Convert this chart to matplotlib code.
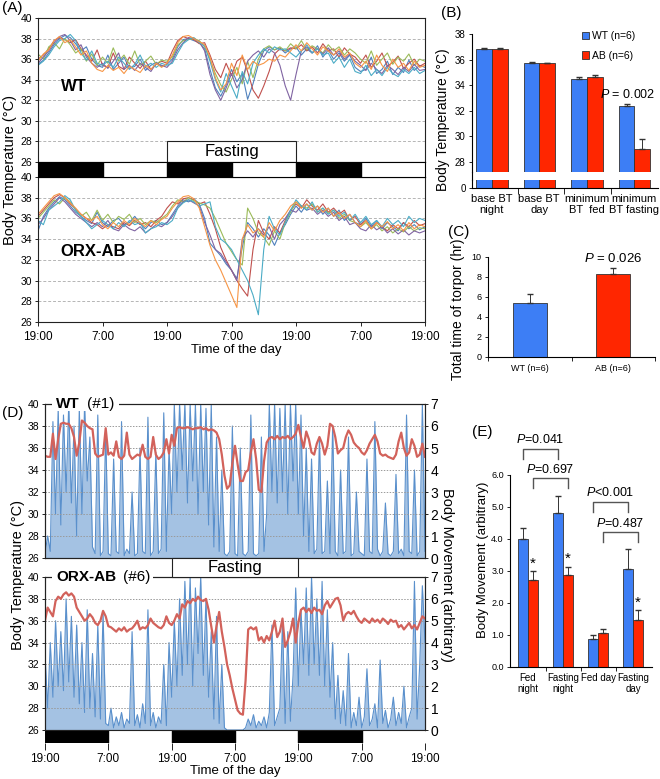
import numpy as np
import matplotlib
matplotlib.use("Agg")
import matplotlib.pyplot as plt
from matplotlib.patches import Rectangle
from matplotlib.lines import Line2D

plt.rcParams['font.family'] = ['Liberation Sans', 'DejaVu Sans']
plt.rcParams['mathtext.fontset'] = 'custom'
plt.rcParams['mathtext.it'] = 'Liberation Sans:italic'
plt.rcParams['mathtext.rm'] = 'Liberation Sans'

# ---------------- data ----------------
hour_ticks = [0, 12, 24, 36, 48, 60, 72]
hour_labels = ['19:00', '7:00', '19:00', '7:00', '19:00', '7:00', '19:00']
nights = [(0, 12), (24, 12), (48, 12)]
fasting = (24, 24)
mouse_colors = ['#4F81BD', '#C0504D', '#9BBB59', '#8064A2', '#4BACC6', '#F79646']

# (A) hourly body temperature, 6 WT mice
wt_bt = [
    [35.5, 35.9, 36.6, 37.4, 38.0, 38.3, 38.1, 37.5, 36.8, 37.2, 36.0, 35.4,
     35.2, 36.4, 35.0, 35.6, 36.2, 35.1, 35.3, 36.0, 34.9, 35.4, 35.7, 35.3,
     35.5, 36.0, 37.2, 37.9, 38.0, 37.8, 37.6, 37.0, 35.0, 33.2, 32.4, 33.5,
     35.0, 33.8, 34.6, 32.1, 33.6, 35.5, 36.8, 37.2, 36.9, 37.1, 36.6, 37.0,
     37.2, 36.4, 37.0, 36.6, 37.3, 36.2, 36.9, 36.0, 36.6, 35.8, 36.4, 35.2,
     34.8, 35.0, 36.2, 34.6, 35.0, 35.8, 34.5, 35.2, 34.7, 35.9, 34.9, 35.4,
     35.2],
    [36.0, 36.4, 37.0, 37.8, 38.1, 37.9, 37.6, 37.9, 37.0, 36.4, 35.8, 36.9,
     35.4, 35.2, 36.6, 35.3, 35.0, 36.2, 35.6, 35.1, 35.8, 35.0, 35.5, 35.8,
     35.6, 36.8, 37.8, 38.2, 38.0, 37.9, 37.5, 37.6, 36.4, 35.0, 34.2, 35.6,
     34.4, 35.8, 36.2, 34.8, 33.0, 32.2, 33.4, 34.8, 36.5, 37.0, 36.8, 37.1,
     37.0, 37.4, 36.8, 37.2, 36.6, 37.5, 36.8, 37.0, 36.2, 37.1, 36.5, 36.2,
     35.6, 36.4, 35.2, 35.8, 36.6, 35.3, 35.7, 36.3, 35.1, 35.6, 36.0, 35.3,
     35.6],
    [36.5, 36.0, 37.2, 37.6, 37.0, 38.0, 37.4, 36.6, 37.0, 35.8, 36.5, 35.4,
     36.2, 35.6, 37.1, 35.8, 36.4, 35.5, 36.8, 35.4, 35.8, 36.3, 35.5, 35.9,
     35.8, 36.2, 37.4, 37.8, 37.9, 38.0, 37.8, 37.2, 36.0, 34.6, 33.5, 32.8,
     34.0, 35.2, 33.6, 35.8, 34.2, 36.0, 37.0, 37.3, 36.9, 37.2, 36.8, 37.5,
     37.0, 37.8, 36.9, 37.3, 37.0, 36.6, 37.4, 36.8, 37.2, 36.4, 37.0, 36.6,
     36.0, 35.6, 36.8, 35.4, 36.0, 36.6, 35.5, 36.2, 35.8, 36.5, 35.4, 36.0,
     35.8],
    [35.6, 36.2, 36.8, 37.6, 38.2, 38.4, 37.8, 36.9, 37.4, 36.2, 35.6, 35.2,
     35.6, 35.1, 35.8, 36.6, 35.0, 35.4, 34.9, 35.6, 35.2, 34.8, 35.6, 35.4,
     35.2, 35.8, 36.9, 37.6, 38.1, 38.0, 37.7, 36.8, 34.5, 33.0, 32.0, 33.2,
     34.6, 33.2, 34.0, 35.8, 36.4, 36.8, 36.2, 37.0, 36.6, 35.4, 33.4, 32.0,
     34.5, 36.8, 37.2, 36.6, 37.0, 36.5, 37.1, 36.4, 36.8, 36.0, 36.5, 35.8,
     35.4, 34.9, 35.6, 35.0, 34.6, 35.4, 35.0, 34.5, 35.2, 34.8, 35.5, 34.9,
     35.0],
    [35.4, 35.8, 36.4, 37.2, 37.8, 38.0, 38.4, 37.8, 36.6, 35.9, 36.8, 35.6,
     35.4, 35.8, 35.2, 36.2, 35.6, 35.0, 35.5, 36.4, 35.3, 35.6, 35.2, 35.6,
     35.4, 35.6, 36.6, 37.5, 37.9, 38.1, 37.6, 37.3, 35.8, 34.0, 32.8, 34.6,
     33.4, 32.2, 34.8, 33.6, 35.6, 36.4, 37.0, 36.6, 37.2, 36.9, 37.0, 36.6,
     36.2, 36.8, 37.4, 36.6, 37.0, 36.4, 36.6, 35.6, 36.2, 35.2, 36.0, 34.8,
     34.6, 35.4, 34.4, 35.0, 34.4, 35.2, 34.6, 34.3, 35.0, 34.6, 35.2, 34.6,
     34.9],
    [35.8, 36.5, 36.9, 37.8, 38.2, 37.6, 37.9, 37.2, 36.4, 36.8, 35.6, 35.0,
     34.8, 35.4, 34.9, 35.2, 34.6, 35.3, 35.0, 34.7, 35.4, 35.0, 35.6, 35.2,
     35.6, 36.4, 37.6, 38.2, 38.3, 38.0, 37.7, 37.4, 36.2, 34.2, 33.0, 33.6,
     35.6, 34.4, 36.4, 35.0, 35.8, 35.4, 35.6, 36.0, 35.8, 36.4, 36.2, 36.8,
     37.4, 36.8, 37.6, 37.0, 36.4, 37.2, 36.8, 36.4, 37.0, 36.2, 36.6, 35.6,
     35.2, 35.8, 35.0, 36.4, 35.4, 34.8, 36.0, 35.2, 35.6, 34.9, 35.8, 35.2,
     35.4],
]

# (A) hourly body temperature, 6 ORX-AB mice
ab_bt = [
    [34.8, 36.2, 37.0, 37.6, 38.1, 37.8, 37.2, 36.6, 36.2, 35.8, 35.5, 36.6,
     35.6, 35.2, 35.8, 36.0, 35.4, 35.6, 36.2, 35.5, 35.0, 35.6, 35.8, 35.4,
     35.6, 36.4, 37.2, 37.8, 37.6, 37.9, 37.4, 36.0, 33.6, 33.0, 32.4, 31.6,
     31.0, 30.2, 33.2, 35.6, 35.0, 34.2, 35.0, 34.4, 33.4, 34.6, 35.4, 36.4,
     37.2, 36.6, 37.4, 36.8, 37.2, 36.4, 37.0, 36.2, 36.8, 35.8, 36.4, 35.6,
     35.4, 36.0, 35.2, 35.8, 35.0, 35.6, 35.2, 34.8, 35.6, 35.0, 35.4, 34.9,
     35.2],
    [36.2, 36.8, 37.4, 38.0, 38.3, 38.0, 37.4, 36.9, 36.4, 36.0, 35.6, 35.4,
     35.0, 35.4, 35.2, 35.0, 35.6, 35.3, 35.8, 35.4, 35.6, 35.2, 35.8, 36.2,
     37.0, 37.6, 37.4, 37.9, 38.0, 37.8, 37.4, 37.6, 36.4, 35.0, 33.2, 32.0,
     31.0, 30.0, 29.2, 28.5, 33.0, 35.8, 34.6, 34.0, 35.2, 34.6, 35.8, 36.8,
     37.4, 37.0, 37.8, 37.2, 36.8, 37.4, 36.6, 37.0, 36.4, 36.8, 35.8, 36.2,
     35.4, 35.8, 35.0, 35.6, 35.2, 34.8, 35.4, 35.0, 35.6, 35.2, 35.8, 35.3,
     35.5],
    [36.0, 36.6, 37.2, 37.8, 37.4, 38.0, 37.6, 36.8, 36.2, 36.6, 35.8, 36.8,
     35.8, 36.4, 35.6, 36.2, 35.9, 36.4, 35.6, 36.0, 35.4, 35.8, 35.6, 36.0,
     36.4, 37.2, 37.8, 37.6, 38.0, 37.7, 37.5, 37.3, 37.0, 36.0, 34.8, 33.6,
     32.8, 32.0, 31.5, 37.0, 36.0, 34.6, 34.2, 33.4, 34.8, 34.0, 35.6, 36.6,
     37.6, 37.2, 37.0, 37.4, 36.6, 37.0, 36.5, 36.8, 36.0, 36.4, 35.8, 35.6,
     35.2, 35.6, 35.0, 35.4, 34.8, 35.2, 34.6, 35.0, 34.7, 35.2, 34.8, 35.1,
     35.0],
    [35.4, 36.0, 36.8, 37.4, 38.0, 37.6, 37.0, 36.4, 36.0, 35.6, 35.2, 35.6,
     35.2, 35.8, 35.0, 34.8, 35.4, 35.0, 34.8, 35.2, 34.6, 35.0, 35.4, 35.2,
     35.6, 36.2, 37.0, 37.6, 37.8, 37.5, 37.2, 35.6, 34.4, 33.0, 32.6, 31.8,
     31.0, 30.0, 34.0, 34.8, 34.2, 35.0, 34.4, 35.2, 34.0, 35.4, 36.0, 36.8,
     36.6, 37.2, 36.8, 37.0, 36.4, 36.8, 36.2, 36.6, 35.8, 36.2, 35.4, 35.6,
     35.0, 34.8, 35.4, 34.9, 35.2, 34.6, 35.0, 34.5, 34.9, 34.4, 34.8, 34.6,
     34.8],
    [35.8, 35.4, 36.8, 37.2, 37.6, 38.2, 37.8, 36.8, 36.2, 35.6, 35.0, 35.4,
     35.8, 35.4, 35.0, 35.6, 35.2, 35.8, 35.4, 35.6, 34.6, 35.0, 35.2, 35.6,
     35.4, 35.8, 37.0, 37.5, 37.8, 37.6, 37.2, 37.4, 37.6, 35.2, 34.0, 33.6,
     33.0, 32.0, 31.0, 30.0, 28.6, 26.7, 33.0, 36.2, 35.0, 34.4, 35.6, 36.8,
     37.8, 37.2, 36.8, 37.6, 36.6, 37.0, 36.4, 36.8, 36.2, 36.6, 35.8, 36.4,
     35.6, 36.2, 35.4, 35.8, 35.2, 36.0, 35.4, 35.8, 35.2, 36.2, 35.6, 36.0,
     35.8],
    [36.4, 37.0, 37.6, 38.2, 38.4, 38.0, 37.5, 37.0, 36.4, 36.0, 35.8, 36.2,
     35.4, 35.0, 35.6, 35.2, 35.8, 35.4, 36.0, 35.6, 35.2, 35.8, 35.4, 35.9,
     36.2, 37.0, 37.6, 38.1, 38.2, 37.9, 37.0, 35.2, 33.4, 32.0, 31.0, 29.8,
     28.6, 27.4, 34.0, 35.4, 34.6, 35.0, 34.2, 35.6, 34.8, 35.8, 36.4, 37.2,
     37.6, 37.0, 37.4, 36.8, 37.2, 36.6, 37.0, 36.2, 36.6, 36.0, 36.4, 35.6,
     35.2, 35.8, 35.0, 35.6, 35.2, 35.7, 35.0, 35.4, 34.8, 35.6, 35.0, 35.4,
     35.2],
]

# (B) body temperature summary
b_cats = ['base BT\nnight', 'base BT\nday', 'minimum\nBT  fed', 'minimum\nBT fasting']
b_wt = [36.85, 35.7, 34.5, 32.35]
b_wt_err = [0.08, 0.1, 0.12, 0.15]
b_ab = [36.85, 35.7, 34.68, 29.05]
b_ab_err = [0.08, 0.05, 0.1, 0.75]

# (C) torpor time
c_cats = ['WT (n=6)', 'AB (n=6)']
c_vals = [5.4, 8.3]
c_err = [0.9, 0.6]

# (D) half-hourly temperature and movement for one mouse of each group
wt1_temp = [
    35.3, 35.2, 35.2, 37.3, 35.0, 36.8, 38.2, 38.3, 38.2, 38.2, 37.8, 37.0,
    35.3, 36.5, 38.5, 38.3, 38.0, 37.8, 37.7, 35.5, 35.2, 35.3, 35.4, 37.8,
    35.4, 35.6, 35.3, 36.6, 35.2, 35.0, 35.3, 37.4, 35.4, 35.0, 35.2, 35.4,
    35.3, 36.3, 35.2, 35.0, 35.2, 37.0, 35.4, 35.0, 35.2, 35.6, 36.8, 35.5,
    37.2, 36.2, 37.8, 37.9, 37.8, 37.8, 37.9, 37.8, 37.7, 37.8, 37.8, 37.9,
    37.7, 37.8, 37.6, 37.7, 37.6, 37.4, 36.8, 35.4, 33.5, 32.3, 32.6, 34.6,
    36.2, 34.5, 33.0, 33.0, 33.8, 34.0, 35.6, 36.8, 35.0, 32.2, 32.0, 34.8,
    36.5, 36.9, 37.0, 36.8, 37.1, 36.8, 37.0, 36.9, 37.1, 36.8, 37.0, 37.3,
    38.1, 37.0, 36.0, 37.5, 36.8, 35.6, 35.4, 36.4, 37.0, 36.4, 35.4, 36.2,
    38.2, 38.0, 37.0, 35.5, 35.8, 36.0, 37.0, 37.6, 37.2, 36.5, 36.2, 36.0,
    35.6, 35.4, 35.8, 36.4, 36.8, 37.2, 36.6, 35.5, 35.3, 35.4, 35.2, 35.1,
    35.0, 35.4, 36.6, 37.4, 36.0, 35.3, 35.6, 36.8, 36.2, 35.2, 35.4, 36.4,
    35.2]
wt1_move = [
    0.2, 1.0, 0.3, 6.2, 2.0, 6.8, 1.5, 6.5, 3.0, 7.0, 2.5, 6.0,
    1.0, 6.8, 2.0, 7.0, 3.5, 5.5, 0.5, 0.2, 6.5, 0.1, 0.3, 5.8,
    0.2, 0.1, 4.5, 0.3, 0.2, 6.2, 0.1, 0.4, 0.2, 3.0, 0.1, 0.2,
    5.0, 0.3, 0.2, 6.4, 0.1, 0.3, 4.8, 0.2, 0.4, 6.6, 0.3, 5.0,
    2.0, 7.0, 3.0, 7.0, 4.0, 7.0, 2.5, 7.0, 3.5, 7.0, 2.0, 7.0,
    3.0, 6.8, 1.5, 7.0, 0.5, 5.5, 0.3, 4.0, 0.2, 0.1, 0.3, 6.0,
    0.2, 0.1, 5.0, 0.2, 0.1, 0.3, 6.5, 0.2, 0.1, 0.2, 5.5, 0.3,
    2.0, 7.0, 3.0, 7.0, 2.5, 6.8, 3.0, 7.0, 2.0, 7.0, 3.5, 7.0,
    2.0, 6.5, 1.0, 5.0, 0.3, 4.5, 0.2, 0.4, 5.5, 0.2, 0.3, 3.5,
    0.2, 6.0, 0.3, 0.1, 4.0, 0.2, 0.3, 5.5, 0.1, 0.2, 3.0, 0.3,
    0.2, 0.1, 4.5, 0.3, 0.2, 6.2, 0.4, 0.1, 0.3, 2.5, 0.2, 0.1,
    0.3, 3.8, 0.2, 0.4, 0.1, 6.5, 0.3, 0.2, 4.0, 0.1, 0.3, 7.0,
    0.3]
ab6_temp = [
    36.0, 37.2, 36.8, 36.4, 37.8, 38.2, 38.0, 38.4, 38.6, 38.3, 38.5, 38.2,
    37.2, 36.8, 36.4, 36.0, 36.2, 36.6, 36.3, 35.8, 35.6, 36.0, 36.9, 36.4,
    35.5, 35.4, 35.2, 35.0, 35.3, 35.1, 35.4, 35.0, 35.2, 35.3, 35.6, 36.0,
    35.2, 35.4, 35.3, 35.6, 36.2, 35.8, 35.6, 35.4, 35.3, 35.6, 36.4, 35.8,
    35.6, 36.0, 36.6, 36.2, 37.5, 37.2, 37.8, 37.6, 38.0, 37.8, 38.2, 37.9,
    37.8, 38.0, 37.0, 35.5, 34.0, 35.5, 36.8, 35.0, 33.6, 32.0, 31.0, 29.8,
    28.8, 27.8, 27.5, 27.4, 30.5, 35.2, 35.4, 35.2, 35.4, 34.2, 34.5, 34.0,
    34.6, 34.2, 35.0, 36.0, 34.5, 35.0, 36.2, 33.6, 34.2, 35.0, 36.2, 34.0,
    35.8, 37.0, 37.2, 36.8, 37.1, 36.7, 37.2, 36.9, 37.0, 36.6, 37.4, 37.8,
    37.2, 37.6, 38.0, 38.1, 37.4, 36.0, 36.6, 36.8, 36.6, 36.9, 36.4, 36.0,
    35.8, 36.2, 36.0, 35.8, 36.2, 35.9, 36.1, 35.8, 36.2, 36.0, 35.7, 36.1,
    35.9, 36.0, 35.4, 35.6, 35.2, 35.5, 35.8, 35.3, 35.6, 35.2, 35.8, 36.4,
    36.2]
ab6_move = [
    3.5, 1.0, 4.0, 1.5, 5.0, 2.0, 4.5, 1.8, 6.0, 2.2, 5.2, 1.5,
    4.8, 1.2, 4.0, 0.8, 5.5, 1.0, 3.5, 0.6, 4.8, 0.5, 5.4, 0.3,
    0.2, 1.0, 0.1, 0.6, 0.2, 0.8, 0.1, 0.5, 0.3, 4.5, 0.2, 0.7,
    0.1, 1.2, 0.3, 5.5, 0.2, 0.8, 0.1, 0.6, 0.3, 3.0, 0.2, 4.0,
    1.5, 5.0, 2.0, 6.0, 2.5, 6.8, 3.0, 7.0, 2.0, 6.5, 3.5, 7.0,
    2.5, 6.0, 1.5, 4.5, 0.5, 5.2, 0.3, 3.0, 0.1, 0.0, 0.0, 0.0,
    0.0, 0.0, 0.0, 0.0, 0.1, 0.5, 0.2, 0.7, 0.1, 0.4, 0.2, 0.6,
    0.1, 0.8, 4.8, 0.2, 0.6, 1.0, 5.0, 0.3, 4.5, 0.4, 2.5, 6.5,
    2.0, 5.5, 3.0, 6.5, 2.5, 7.0, 3.0, 6.0, 2.5, 6.8, 2.0, 5.5,
    1.5, 4.0, 0.5, 2.5, 0.3, 1.8, 0.2, 3.5, 0.1, 0.8, 0.2, 1.5,
    0.1, 0.6, 2.8, 0.2, 0.5, 1.2, 0.1, 3.2, 0.3, 0.9, 0.1, 0.5,
    1.5, 0.2, 0.8, 0.3, 2.0, 0.1, 0.6, 1.0, 6.8, 0.5, 3.0, 6.6,
    4.0]

# (E) body movement summary
e_cats = ['Fed\nnight', 'Fasting\nnight', 'Fed day', 'Fasting\nday']
e_wt = [4.0, 4.8, 0.88, 3.05]
e_wt_err = [0.33, 0.55, 0.13, 0.65]
e_ab = [2.72, 2.87, 1.05, 1.48]
e_ab_err = [0.28, 0.27, 0.15, 0.30]
e_star = [True, True, False, True]
e_tests = [('WT', 0, 1, '$P$=0.041'), ('AB', 0, 1, '$P$=0.697'),
           ('WT', 2, 3, '$P$<0.001'), ('AB', 2, 3, '$P$=0.487')]

BLUE = '#3D7EF5'
RED = '#FF2600'
MOVE = '#5A90CC'
W, H = 660, 779


def box(x0, y0, x1, y1):
    return [x0 / W, 1 - y1 / H, (x1 - x0) / W, (y1 - y0) / H]


def ftext(x, y, s, **kw):
    return fig.text(x / W, 1 - y / H, s, **kw)


def time_axes(ax):
    ax.set_xlim(0, 72)
    ax.set_ylim(26, 40)
    ax.set_yticks(range(26, 41, 2))
    ax.tick_params(axis='y', labelsize=7.5, length=2, width=0.6, pad=2)
    for sp in ax.spines.values():
        sp.set_linewidth(0.8)
        sp.set_color('#222222')


fig = plt.figure(figsize=(6.6, 7.79), dpi=100)

# ---------------- (A) ----------------
axA1 = fig.add_axes(box(38, 18, 425, 162))
axA2 = fig.add_axes(box(38, 177, 425, 322))
for ax, group in ((axA1, wt_bt), (axA2, ab_bt)):
    for series, c in zip(group, mouse_colors):
        ax.plot(np.arange(len(series)), series, color=c, lw=0.8)
    time_axes(ax)
    ax.yaxis.grid(True, ls=(0, (3, 2)), color='#b5b5b5', lw=0.7)
    ax.set_axisbelow(True)
axA1.set_xticks([])
axA2.set_xticks(hour_ticks)
axA2.set_xticklabels(hour_labels, fontsize=8.5)
axA2.tick_params(axis='x', length=3, width=0.6)
axA1.add_patch(Rectangle((fasting[0], 26), fasting[1], 2, fc='white', ec='#222222', lw=0.8, zorder=5))
axA1.text(fasting[0] + fasting[1] / 2, 27.05, 'Fasting', ha='center', va='center', fontsize=12, zorder=6)
axA1.text(4.2, 33.3, 'WT', fontsize=12, fontweight='bold', va='center')
axA2.text(4.2, 32.8, 'ORX-AB', fontsize=12, fontweight='bold', va='center')

axAb = fig.add_axes(box(38, 162, 425, 177))
for start, length in nights:
    axAb.axvspan(start, start + length, color='black')
axAb.set_xlim(0, 72)
axAb.set_xticks([])
axAb.set_yticks([])
for sp in axAb.spines.values():
    sp.set_linewidth(0.8)

ftext(10, 170, 'Body Temperature (°C)', rotation=90, ha='center', va='center', fontsize=10.5)
ftext(236, 350, 'Time of the day', ha='center', va='center', fontsize=9.5)
ftext(2, 8, '(A)', fontsize=11, va='center')

# ---------------- (B) ----------------
xb = np.arange(len(b_cats))
axB = fig.add_axes(box(472, 34, 658, 172))
axBl = fig.add_axes(box(472, 180, 658, 188))
for ax in (axB, axBl):
    ax.bar(xb - 0.12, b_wt, 0.33, color=BLUE, edgecolor='#333333', lw=0.6, label='WT (n=6)')
    ax.bar(xb + 0.21, b_ab, 0.33, color=RED, edgecolor='#333333', lw=0.6, label='AB (n=6)')
    ax.set_xlim(-0.375, 3.54)
    ax.spines['top'].set_visible(False)
    ax.spines['right'].set_visible(False)
    ax.tick_params(labelsize=7, length=2.5, width=0.6, pad=2)
axB.errorbar(xb - 0.12, b_wt, yerr=[[0] * 4, b_wt_err], fmt='none', ecolor='#333333', elinewidth=0.7, capsize=2)
axB.errorbar(xb + 0.21, b_ab, yerr=[[0] * 4, b_ab_err], fmt='none', ecolor='#333333', elinewidth=0.7, capsize=2)
axB.set_ylim(27.22, 38)
axB.set_yticks(range(28, 39, 2))
axB.spines['bottom'].set_visible(False)
axB.set_xticks([])
axBl.set_ylim(0, 0.6)
axBl.set_yticks([0])
axBl.set_xticks([0.6, 1.57, 2.55])
axBl.set_xticklabels([])
axBl.set_xticks(xb + 0.04, minor=True)
axBl.set_xticklabels(b_cats, minor=True, fontsize=8)
axBl.tick_params(axis='x', which='minor', length=0, pad=4)
axBl.tick_params(axis='x', which='major', length=4)
fig.add_artist(Line2D([472 / W, 472 / W], [1 - 172 / H, 1 - 180 / H], color='black', lw=0.8))
axB.legend(loc='upper left', bbox_to_anchor=(578 / W, 1 - 27 / H), bbox_transform=fig.transFigure,
           frameon=False, fontsize=7.5, handlelength=0.7, handleheight=0.7, handletextpad=0.2,
           labelspacing=0.9, borderaxespad=0)
ftext(655, 94, '$P$ = 0.002', ha='right', va='center', fontsize=9)
ftext(443, 120, 'Body Temperature (°C)', rotation=90, ha='center', va='center', fontsize=10)
ftext(441, 13, '(B)', fontsize=11, va='center')

# ---------------- (C) ----------------
xc = np.arange(len(c_cats))
axC = fig.add_axes(box(488, 257, 655, 357))
axC.bar(xc, c_vals, 0.41, color=[BLUE, RED], edgecolor='#333333', lw=0.6)
axC.errorbar(xc, c_vals, yerr=[[0, 0], c_err], fmt='none', ecolor='#333333', elinewidth=0.7, capsize=2.5)
axC.set_xlim(-0.5, 1.5)
axC.set_ylim(0, 10)
axC.set_yticks(range(0, 11, 2))
axC.set_xticks([-0.5, 0.5, 1.5])
axC.set_xticklabels([])
axC.set_xticks(xc, minor=True)
axC.set_xticklabels(c_cats, minor=True, fontsize=6.5)
axC.tick_params(axis='x', which='minor', length=0, pad=5)
axC.tick_params(axis='x', which='major', length=3, width=0.6)
axC.tick_params(axis='y', labelsize=6.5, length=2.5, width=0.6, pad=2)
axC.spines['top'].set_visible(False)
axC.spines['right'].set_visible(False)
ftext(613, 258, '$P$ = 0.026', ha='center', va='center', fontsize=9.5)
ftext(458, 309, 'Total time of torpor (hr)', rotation=90, ha='center', va='center', fontsize=10)
ftext(448, 232, '(C)', fontsize=11, va='center')

# ---------------- (D) ----------------
half_hours = np.arange(len(wt1_temp)) * 0.5
axD1 = fig.add_axes(box(45, 404, 425, 558))
axD2 = fig.add_axes(box(45, 577, 425, 730))
for ax, temp, move in ((axD1, wt1_temp, wt1_move), (axD2, ab6_temp, ab6_move)):
    tw = ax.twinx()
    tw.fill_between(half_hours, 0, move, color=MOVE, alpha=0.55, lw=0)
    tw.plot(half_hours, move, color=MOVE, lw=0.8)
    tw.set_ylim(0, 7)
    tw.set_yticks(range(0, 8))
    tw.tick_params(labelsize=10, length=2, width=0.6, pad=2)
    ax.plot(half_hours, temp, color='#D2625B', lw=1.6)
    time_axes(ax)
    ax.yaxis.grid(True, ls=(0, (1.5, 1.5)), color='#9a9a9a', lw=0.7)
    ax.set_zorder(tw.get_zorder() + 1)
    ax.patch.set_visible(False)
    ax.set_xticks([])
    for sp in tw.spines.values():
        sp.set_linewidth(0.8)
        sp.set_color('#222222')
axD2.add_patch(Rectangle((fasting[0], 40), fasting[1], 1.74, fc='white', ec='#222222', lw=0.8,
                         clip_on=False, zorder=5))
axD2.text(fasting[0] + fasting[1] / 2, 40.9, 'Fasting', ha='center', va='center', fontsize=12, zorder=6)

axDb = fig.add_axes(box(45, 730, 425, 743))
for start, length in nights:
    axDb.axvspan(start, start + length, color='black')
axDb.set_xlim(0, 72)
axDb.set_yticks([])
axDb.set_xticks(hour_ticks)
axDb.set_xticklabels(hour_labels, fontsize=8.5)
axDb.tick_params(axis='x', length=5, width=0.6, pad=2)
for sp in axDb.spines.values():
    sp.set_visible(False)

# white strips behind the panel titles that sit on the top spines
for x0, x1, yc in ((52, 119, 404), (52, 153, 577)):
    fig.add_artist(Rectangle((x0 / W, 1 - (yc + 7) / H), (x1 - x0) / W, 14 / H,
                             transform=fig.transFigure, fc='white', ec='none', zorder=2.5))
ftext(56, 404, 'WT', fontsize=11, fontweight='bold', va='center')
ftext(87, 404, '(#1)', fontsize=11, va='center')
ftext(56, 577, 'ORX-AB', fontsize=11, fontweight='bold', va='center')
ftext(123, 577, '(#6)', fontsize=11, va='center')
ftext(18, 575, 'Body Temperature (°C)', rotation=90, ha='center', va='center', fontsize=10.5)
ftext(447, 575, 'Body Movement (arbitrary)', rotation=270, ha='center', va='center', fontsize=10.5)
ftext(235, 771, 'Time of the day', ha='center', va='center', fontsize=9.5)
ftext(2, 413, '(D)', fontsize=11, va='center')

# ---------------- (E) ----------------
xe = np.arange(len(e_cats))
axE = fig.add_axes(box(510, 475, 652, 667))
axE.bar(xe - 0.143, e_wt, 0.286, color=BLUE, edgecolor='#333333', lw=0.6)
axE.bar(xe + 0.143, e_ab, 0.286, color=RED, edgecolor='#333333', lw=0.6)
axE.errorbar(xe - 0.143, e_wt, yerr=[[0] * 4, e_wt_err], fmt='none', ecolor='#333333', elinewidth=0.7, capsize=2)
axE.errorbar(xe + 0.143, e_ab, yerr=[[0] * 4, e_ab_err], fmt='none', ecolor='#333333', elinewidth=0.7, capsize=2)
for i, star in enumerate(e_star):
    if star:
        axE.text(i + 0.143, e_ab[i] + e_ab_err[i] + 0.02, '*', ha='center', va='bottom', fontsize=11)
axE.set_xlim(-0.514, 3.54)
axE.set_ylim(0, 6)
axE.set_yticks(range(0, 7))
axE.set_yticklabels([f'{v:.1f}' for v in range(0, 7)])
axE.set_xticks([0.5, 1.5, 2.5])
axE.set_xticklabels([])
axE.set_xticks(xe, minor=True)
axE.set_xticklabels(e_cats, minor=True, fontsize=7)
axE.tick_params(axis='x', which='minor', length=0, pad=4)
axE.tick_params(axis='x', which='major', length=3, width=0.6)
axE.tick_params(axis='y', labelsize=6.5, length=2.5, width=0.6, pad=2)
axE.spines['top'].set_visible(False)
axE.spines['right'].set_visible(False)
bracket_heights = [(6.81, 7.1), (5.9, 6.16), (5.16, 5.44), (4.22, 4.47)]
for (grp, a, b, lab), (top, ty) in zip(e_tests, bracket_heights):
    off = -0.143 if grp == 'WT' else 0.143
    xa, xb2 = a + off, b + off
    axE.plot([xa, xa, xb2, xb2], [top - 0.31, top, top, top - 0.31], color='#555555', lw=1.0, clip_on=False)
    axE.text((xa + xb2) / 2, ty, lab, ha='center', va='center', fontsize=9)
ftext(483, 560, 'Body Movement (arbitrary)', rotation=90, ha='center', va='center', fontsize=9.5)
ftext(472, 432, '(E)', fontsize=11, va='center')

fig.savefig('out.png', dpi=100)
